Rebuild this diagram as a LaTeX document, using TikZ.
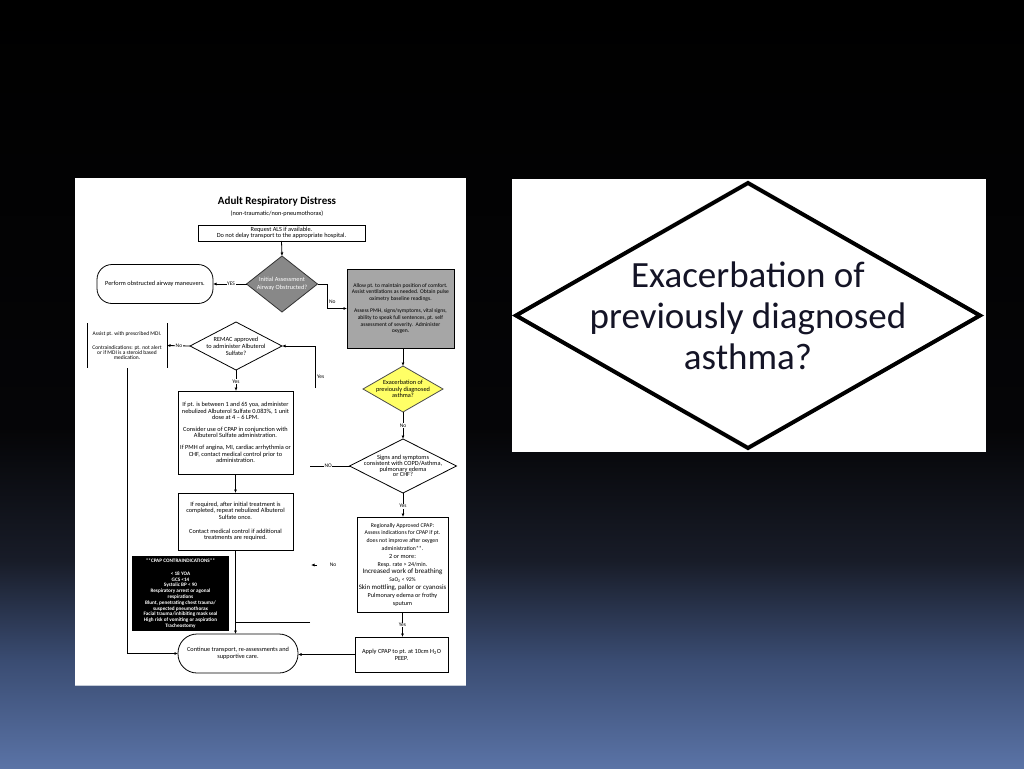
\documentclass[tikz,border=0pt]{standalone}
\usepackage{fontspec}
\setmainfont{Carlito}
\usetikzlibrary{shapes.geometric,arrows.meta}
\definecolor{slideblue}{RGB}{90,115,166}
\definecolor{slidemid}{RGB}{58,76,114}
\definecolor{slidedark}{RGB}{24,28,40}
\definecolor{slidetop}{RGB}{5,5,7}
\definecolor{diagray}{RGB}{136,136,136}
\definecolor{boxgray}{RGB}{166,166,166}
\definecolor{dyellow}{RGB}{255,255,102}
\definecolor{asthmatext}{RGB}{20,20,38}
\definecolor{panelline}{RGB}{196,204,216}
\pgfdeclareverticalshading{slidebg}{100bp}{color(0bp)=(slideblue); color(25bp)=(slideblue); color(32bp)=(slidemid); color(38.5bp)=(slidedark); color(47bp)=(slidetop); color(75bp)=(black); color(100bp)=(black)}
\begin{document}
\begin{tikzpicture}[x=1pt,y=-1pt,
  every node/.style={inner sep=0pt,outer sep=0pt},
  fc/.style={font=\fontsize{6.3}{6.2}\selectfont,align=center},
  fbox/.style={fc,draw=black,line width=0.8pt,rectangle},
  term/.style={fc,draw=black,line width=0.8pt,rectangle,rounded corners=15pt},
  dia/.style={diamond,draw=black,line width=0.8pt},
  conn/.style={draw=black,line width=0.8pt},
  arr/.style={conn,-{Latex[length=3.5pt,width=3pt]}},
  lab/.style={font=\fontsize{5.5}{6}\selectfont,fill=white,inner sep=0.6pt},
  lbl/.style={font=\fontsize{5.5}{6}\selectfont},
]
\useasboundingbox (0,0) rectangle (1024,768);
\shade[shading=slidebg] (0,0) rectangle (1024,768);

% ---------- flowchart panel ----------
\fill[white] (75,178) rectangle (466,685);
\draw[panelline,line width=1.5pt] (75,685.5) -- (466,685.5);

\node[font=\bfseries\fontsize{11}{12}\selectfont] (title) at (277,202) {Adult Respiratory Distress};
\node[font=\fontsize{6.3}{7}\selectfont] (sub) at (277,214) {(non-traumatic/non-pneumothorax)};

\node[fbox,minimum width=167,minimum height=16] (b0) at (281.5,233) {Request ALS if available.\\Do not delay transport to the appropriate hospital.};

\node[dia,fill=diagray,draw=black!80,minimum width=71,minimum height=56,
  label={[fc,text=white,font=\fontsize{6.3}{7.5}\selectfont]center:{Initial Assessment\\Airway Obstructed?}}] (d1) at (282,284) {};
\draw[arr] (b0.south) -- (d1.north);

\node[term,minimum width=116,minimum height=39] (t1) at (155,284) {Perform obstructed airway maneuvers.};
\draw[arr] (d1.west) -- (t1.east) node[lab,pos=0.46] {YES};

\node[fbox,fill=boxgray,minimum width=107,minimum height=79,font=\fontsize{5.6}{6.6}\selectfont] (g) at (400.5,308.5) {Allow pt. to maintain position of comfort.\\Assist ventilations as needed. Obtain pulse\\oximetry baseline readings.\\[6pt]Assess PMH, signs/symptoms, vital signs,\\ability to speak full sentences, pt. self\\assessment of severity.\ \ Administer\\oxygen.};
\coordinate (n1) at (327,284);
\draw[arr] (d1.east) -- (n1) |- (g.west);
\node[lbl,anchor=west] (nolab1) at (329,302) {No};

\node[dia,fill=dyellow,draw=black!70,minimum width=80,minimum height=46,
  label={[fc,font=\fontsize{6.3}{6.2}\selectfont]center:{Exacerbation of\\previously diagnosed\\asthma?}}] (y) at (403,389) {};
\draw[arr] (y.north |- g.south) -- (y.north);

\node[dia,minimum width=107,minimum height=54,
  label={[fc,font=\fontsize{6.3}{5.8}\selectfont]center:{Signs and symptoms\\consistent with COPD/Asthma,\\pulmonary edema\\or CHF?}}] (d3) at (403,466) {};
\draw[arr] (y.south) -- (d3.north) node[lab,pos=0.5] {No};

\coordinate (n2) at (310,466);
\draw[conn] (d3.west) -- (n2) node[lab,pos=0.54] {NO};

\node[fbox,minimum width=91,minimum height=95,font=\fontsize{5.8}{7.8}\selectfont] (b4) at (402.5,564.5) {Regionally Approved CPAP:\\Assess indications for CPAP if pt.\\does not improve after oxygen\\administration**.\\{\fontsize{6.3}{7.8}\selectfont 2 or more:}\\{\fontsize{6}{7.8}\selectfont Resp. rate > 24/min.}\\{\fontsize{7}{7.8}\selectfont Increased work of breathing}\\{\fontsize{5.6}{7.8}\selectfont SaO\textsubscript{2} < 92\%}\\{\fontsize{6.8}{7.8}\selectfont Skin mottling, pallor or cyanosis}\\{\fontsize{6.2}{7.8}\selectfont Pulmonary edema or frothy}\\{\fontsize{6.2}{7.8}\selectfont sputum}};
\draw[arr] (d3.south) -- (d3.south |- b4.north) node[lab,pos=0.55] {Yes};

\node[fbox,minimum width=93,minimum height=35,font=\fontsize{6.3}{7}\selectfont] (b5) at (401.5,654.5) {Apply CPAP to pt. at 10cm H\textsubscript{2}O\\PEEP.};
\draw[arr] (b4.south) -- (b4.south |- b5.north) node[lab,pos=0.52] {Yes};

\node[term,rounded corners=19pt,minimum width=120,minimum height=39,font=\fontsize{6.3}{7.5}\selectfont] (t2) at (238,653.5) {Continue transport, re-assessments and\\supportive care.};
\draw[arr] (b5.west) -- (b5.west -| t2.east);

\node[fc,font=\fontsize{5.5}{5.3}\selectfont,minimum width=80,minimum height=45] (lbox) at (127,345.5) {Assist pt. with prescribed MDI.\\[8.7pt]Contraindications: pt. not alert\\or if MDI is a steroid based\\medication.};
\draw[conn] (lbox.north west) -- (lbox.south west);
\draw[conn] (lbox.north east) -- (lbox.south east);

\node[dia,minimum width=92,minimum height=48,
  label={[fc,font=\fontsize{6.3}{7}\selectfont]center:{REMAC approved\\to administer Albuterol\\Sulfate?}}] (d2) at (236,346) {};
\draw[arr] (d2.west) -- (lbox.east) node[lab,pos=0.48] {No};

\coordinate (n3) at (315,388);
\draw[arr] (n3) |- (d2.east);
\node[lbl,anchor=west] (yeslab) at (317,377) {Yes};

\node[fbox,minimum width=115,minimum height=83] (b3) at (235.5,432.5) {If pt. is between 1 and 65 yoa, administer\\nebulized Albuterol Sulfate 0.083\%, 1 unit\\dose at 4 -- 6 LPM.\\[6pt]Consider use of CPAP in conjunction with\\Albuterol Sulfate administration.\\[6pt]If PMH of angina, MI, cardiac arrhythmia or\\CHF, contact medical control prior to\\administration.};
\draw[arr] (d2.south) -- (d2.south |- b3.north) node[lab,pos=0.55] {Yes};

\node[fbox,minimum width=115,minimum height=57] (b6) at (235.5,521.5) {If required, after initial treatment is\\completed, repeat nebulized Albuterol\\Sulfate once.\\[8pt]Contact medical control if additional\\treatments are required.};
\draw[arr] (b3.south) -- (b6.north);
\draw[arr] (b6.south) -- (b6.south |- t2.north);
\coordinate (n4) at (310,622);
\draw[conn] (n4) -- (n4 -| b6.south);
\draw[arr] (lbox.south) |- (t2.west);

\node[fill=black,text=white,align=center,font=\bfseries\fontsize{5.2}{5.8}\selectfont,minimum width=97,minimum height=75] (k) at (180.5,593.5) {**CPAP CONTRAINDICATIONS**\\[7.2pt]< 18 YOA\\GCS <14\\Systolic BP < 90\\Respiratory arrest or agonal\\respirations\\Blunt, penetrating chest trauma/\\suspected pneumothorax\\Facial trauma/inhibiting mask seal\\High risk of vomiting or aspiration\\Tracheostomy};

\coordinate (s1) at (317,565);
\coordinate (s2) at (311,565);
\draw[arr] (s1) -- (s2);
\node[lbl] (nolab2) at (333,565) {No};

% ---------- zoomed diamond panel ----------
\fill[white] (512,179) rectangle (986,452);
\node[diamond,draw=black,line width=4pt,minimum width=464,minimum height=265,
  label={[font=\fontsize{37}{41}\selectfont,align=center,text=asthmatext]center:{Exacerbation of\\previously diagnosed\\asthma?}}] (ast) at (748,315.5) {};
\end{tikzpicture}
\end{document}
